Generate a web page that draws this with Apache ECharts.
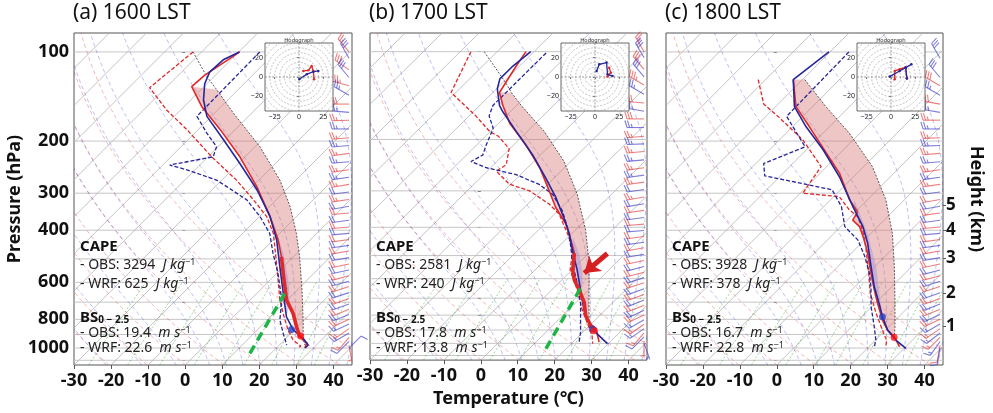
<!DOCTYPE html>
<html>
<head>
<meta charset="utf-8">
<title>Skew-T</title>
<script src="https://cdn.jsdelivr.net/npm/echarts@6.0.0/dist/echarts.min.js"></script>
<style>
  html, body { margin: 0; padding: 0; background: #fff; }
  #main { width: 993px; height: 413px; }
</style>
</head>
<body>
<div id="main"></div>
<script>
// ---------- data ----------
var panelTitles = ['(a) 1600 LST', '(b) 1700 LST', '(c) 1800 LST'];
var pressureLabels = [100, 200, 300, 400, 600, 800, 1000];
var pressureGrid = [100, 200, 300, 400, 500, 600, 700, 800, 900, 1000, 1100];
var heightLabels = [1, 2, 3, 4, 5];
var heightPres = [843, 652, 497, 399, 329];

var capeObs = [3294, 2581, 3928];
var capeWrf = [625, 240, 378];
var shearObs = [19.4, 17.8, 16.7];
var shearWrf = [22.6, 13.8, 22.8];

// profiles: [pressure hPa, temperature degC]
var obsTemp = [
  [[100,-69.7],[120,-72.9],[131,-73.3],[153,-65.2],[183,-54.0],[226,-41.4],[285,-28.8],[360,-17.1],[432,-8.6],[492,-3.2],[559,1.7],[688,9.8],[764,15.2],[847,19.7],[916,23.3],[964,26.9],[1000,27.7]],
  [[100,-72.2],[112,-70.9],[138,-68.2],[153,-63.7],[176,-57.0],[209,-46.6],[250,-36.7],[300,-27.8],[342,-21.5],[389,-14.3],[443,-8.4],[491,-3.9],[560,0.2],[605,3.3],[654,7.3],[725,12.3],[805,16.3],[870,20.4],[900,23.1],[990,27.1]],
  [[124,-72.5],[153,-64.5],[179,-55.4],[220,-43.6],[257,-34.7],[316,-24.8],[347,-19.4],[370,-18.5],[389,-14.9],[432,-10.0],[479,-5.5],[560,0.8],[637,6.2],[707,10.7],[805,16.5],[870,20.6],[916,24.2],[990,28.3]]
];
var wrfTemp = [
  [[100,-69.8],[106,-72.0],[117,-72.4],[128,-70.6],[145,-66.6],[165,-61.2],[198,-50.4],[238,-39.6],[292,-27.9],[360,-17.1],[432,-9.0],[531,-1.0],[653,7.1],[784,14.3],[869,19.7],[928,24.7],[977,27.8],[1000,27.8]],
  [[100,-70.9],[112,-71.8],[124,-71.8],[134,-69.8],[153,-64.6],[161,-61.9],[188,-52.9],[226,-42.1],[271,-32.3],[316,-24.2],[370,-16.6],[420,-10.7],[479,-5.3],[560,1.4],[654,7.7],[764,14.0],[826,17.6],[893,21.7],[965,27.1],[1002,29.8]],
  [[100,-70.3],[124,-72.5],[153,-64.9],[179,-56.3],[214,-45.5],[264,-33.8],[333,-22.1],[389,-14.0],[443,-8.2],[531,-1.0],[621,5.3],[707,11.1],[784,15.6],[870,20.6],[940,25.5],[1003,30.5]]
];
var obsDew = [
  [[100,-82.3],[132,-84.4],[157,-73.8],[183,-63.0],[226,-49.0],[271,-36.0],[316,-26.1],[360,-18.0],[410,-11.7],[531,-1.8],[688,8.0],[764,12.5],[869,18.3],[938,22.3],[985,26.1],[1000,25.8]],
  [[100,-87.1],[138,-81.3],[166,-68.2],[188,-60.1],[195,-56.5],[215,-50.2],[244,-46.6],[257,-47.5],[285,-40.3],[300,-33.1],[333,-24.2],[360,-18.8],[389,-15.0],[432,-9.8],[492,-4.4],[560,-0.5],[654,6.8],[764,13.5],[848,18.5],[940,23.4],[1002,25.8]],
  [[124,-82.0],[150,-73.9],[166,-66.3],[198,-53.7],[244,-41.5],[300,-39.3],[308,-28.5],[342,-22.1],[360,-18.1],[399,-13.2],[455,-7.8],[560,0.2],[654,6.0],[764,13.0],[870,19.2],[940,23.0],[990,24.6]]
];
var wrfDew = [
  [[100,-64.3],[165,-63.9],[188,-56.7],[209,-50.4],[226,-48.6],[241,-58.1],[250,-52.2],[271,-41.4],[285,-36.9],[316,-27.9],[360,-19.8],[410,-12.7],[479,-6.4],[559,0.3],[688,8.5],[804,13.4],[892,17.9],[977,22.0]],
  [[101,-66.4],[153,-66.4],[166,-64.6],[183,-60.1],[209,-57.4],[226,-55.6],[238,-57.0],[250,-51.1],[264,-41.2],[285,-32.3],[308,-26.0],[351,-18.8],[399,-13.0],[455,-7.6],[531,-1.7],[621,5.0],[725,11.3],[826,15.8],[916,19.4],[990,21.7]],
  [[100,-64.9],[165,-64.4],[209,-51.2],[238,-57.9],[262,-54.3],[292,-32.3],[333,-25.2],[389,-18.9],[432,-11.7],[491,-5.4],[560,0.4],[621,4.4],[725,9.8],[848,16.1],[940,20.1],[990,21.5]]
];
// surface-based parcel (OBS) and WRF parcel boundary of shaded CAPE
var parcel = [
  [[100,-82.3],[121,-72.0],[134,-65.8],[161,-54.9],[209,-38.7],[271,-24.3],[333,-14.4],[410,-5.5],[492,1.7],[637,11.3],[825,20.6],[916,24.2],[977,26.9]],
  [[100,-83.5],[128,-69.1],[138,-65.0],[153,-58.7],[188,-45.3],[238,-31.8],[308,-19.3],[410,-7.1],[531,2.8],[689,11.8],[826,18.1],[893,20.9]],
  [[124,-69.4],[153,-56.4],[188,-42.9],[244,-27.6],[316,-15.0],[410,-4.2],[531,5.3],[689,14.5],[848,21.7],[916,24.2]]
];
var capeTop = [131, 138, 124];
var capeBot = [916, 893, 916];
var wrfParcel = [
  [[278,-31.5],[316,-23.4],[389,-13.1],[479,-3.6],[589,4.9],[706,11.6],[784,14.3]],
  [[432,-8.8],[491,-2.6],[560,2.8],[621,6.5],[654,7.7]],
  [[316,-23.5],[410,-10.9],[531,0.4],[654,8.5],[784,15.6]]
];
var thickLayer = [[492, 916], [491, 900], null];
var greenLine = [[[1042,14.3],[629,7.0]], [[1042,14.5],[629,6.9]], null];
var obsMark = [[910,23.3], [905,22.6], [920,24.3]];
var wrfMark = [[866,19.1], [893,21.7], [784,15.6]];
var arrowFrom = [492, 5.1], arrowTo = [574, 4.2];

// hodograph winds [u, v] m/s
var hodoObs = [
  [[4.5,6.2],[9.6,6.9],[13.0,11.4],[14.8,6.2],[15.5,-2.4]],
  [[12.9,0.4],[16.3,4.5],[14.6,9.6]],
  [[3.8,-2.4],[3.8,6.2],[9.0,8.0],[15.0,10.0],[16.4,-1.6]]
];
var hodoWrf = [
  [[0.3,-2.4],[7.9,2.8],[14.8,5.5],[19.9,6.2]],
  [[1.6,6.2],[4.4,13.1],[11.9,14.8],[12.9,2.8],[18.0,1.1]],
  [[-1.3,0.4],[8.9,6.2],[15.1,9.6],[21.0,13.0],[15.1,9.6],[16.4,-1.6]]
];

// wind barbs: levels (hPa), direction (deg), speed (kt)
var barbPresObs = [100,115,130,150,170,195,220,250,280,315,350,390,430,470,520,570,620,680,740,800,860,920,980];
var barbPresWrf = [105,122,140,160,182,207,235,265,297,332,370,410,450,495,545,595,650,710,770,830,890,950,1000];
var obsDir = [
  [320,305,285,270,268,265,262,262,260,262,265,265,262,260,258,255,252,250,248,245,235,220,170],
  [330,320,300,275,270,265,265,262,262,260,262,265,262,260,258,255,252,250,248,245,235,220,180],
  [null,null,300,280,270,268,265,262,262,260,262,265,262,260,258,255,252,250,248,245,235,225,190]
];
var obsSpd = [
  [25,30,35,30,25,25,25,25,25,25,20,20,20,20,20,20,20,20,20,20,15,15,5],
  [25,30,35,30,30,25,25,25,25,25,20,20,20,20,20,20,20,20,20,20,15,15,5],
  [null,null,30,30,25,25,25,25,25,20,20,20,20,20,20,20,20,20,20,20,15,15,10]
];
var wrfDir = [
  [330,320,300,275,270,265,265,262,262,260,262,265,262,260,258,255,252,250,248,245,240,225,45],
  [330,320,300,280,270,268,265,262,262,260,262,265,262,260,255,252,250,248,245,240,235,225,160],
  [330,320,300,280,270,268,265,262,262,260,262,265,262,260,255,252,250,248,245,240,232,215,190]
];
var wrfSpd = [
  [30,30,25,25,25,25,25,25,20,20,20,20,20,20,20,20,20,20,20,15,15,10,10],
  [30,30,25,25,25,25,25,25,20,20,20,20,20,20,20,20,20,20,20,15,15,10,5],
  [30,30,25,25,25,25,25,25,20,20,20,20,20,20,20,20,20,20,20,15,15,15,10]
];

// ---------- layout / helpers ----------
var FONT = 'Noto Sans';
var RED = '#e02828', BLUE = '#26269a';
var K = 79.85, PBOT = 1141, PTOP = 86.3;
var panelLeft = [74, 370, 666], panelWidth = [278, 277, 277];
var BARB_X = 44.2;

function sk(p, t) { return [t + K * Math.log10(PBOT / p), p]; }
function toXY(arr) { return arr.map(function (d) { return sk(d[0], d[1]); }); }
function between(arr, p0, p1) { return arr.filter(function (d) { return d[0] >= p0 && d[0] <= p1; }); }
function logSpace(a, b, n) {
  var out = [];
  for (var k = 0; k < n; k++) out.push(a * Math.pow(b / a, k / (n - 1)));
  return out;
}

// reference lines of the diagram
var isoLines = [];
for (var t = -120; t <= 40; t += 10) isoLines.push([sk(PBOT, t), sk(PTOP, t)]);
var presLines = pressureGrid.map(function (p) { return [[-30, p], [45, p]]; });
var presSamples = logSpace(PBOT, PTOP, 40);
var dryLines = [];
for (var t0 = -30; t0 <= 40; t0 += 10) {
  dryLines.push(presSamples.map(function (p) {
    return sk(p, (t0 + 273.15) * Math.pow(p / 1000, 0.2857) - 273.15);
  }));
}
function satMix(p, tK) {
  var tc = tK - 273.15;
  var es = 6.112 * Math.exp(17.67 * tc / (tc + 243.5));
  return 0.622 * es / (p - es);
}
function moistRate(p, tK) {
  var rs = satMix(p, tK);
  return (287.04 * tK + 2.501e6 * rs) / (1005.7 + 2.501e6 * 2.501e6 * rs * 0.622 / (287.04 * tK * tK)) / p;
}
function moistLine(t0) {
  var down = [], up = [], tK, p, dp, k1, k2;
  tK = t0 + 273.15; p = 1000;
  while (p < PBOT) {
    dp = 5; k1 = moistRate(p, tK); k2 = moistRate(p + dp / 2, tK + k1 * dp / 2);
    tK += k2 * dp; p += dp; down.push([p, tK - 273.15]);
  }
  tK = t0 + 273.15; p = 1000;
  while (p > PTOP) {
    dp = -5; k1 = moistRate(p, tK); k2 = moistRate(p + dp / 2, tK + k1 * dp / 2);
    tK += k2 * dp; p += dp; up.push([p, tK - 273.15]);
  }
  return toXY(down.reverse().concat([[1000, t0]]).concat(up));
}
var moistLines = [-30, -20, -10, 0, 5, 10, 15, 20, 25, 30, 35, 40, 45].map(moistLine);
var mixLines = [0.0004, 0.001, 0.002, 0.004, 0.007, 0.01, 0.016, 0.024, 0.032].map(function (w) {
  return logSpace(PBOT, 600, 12).map(function (p) {
    var e = p * w / (0.622 + w), l = Math.log(e / 6.112);
    return sk(p, 243.5 * l / (17.67 - l));
  });
});

function curves(gi, lines, style, z) {
  return {
    type: 'custom', xAxisIndex: gi, yAxisIndex: gi, clip: true, silent: true, z: z,
    data: lines.map(function (l) { return l[0]; }),
    renderItem: function (params, api) {
      var pts = lines[params.dataIndex].map(function (d) { return api.coord(d); });
      return { type: 'polyline', shape: { points: pts }, style: Object.assign({ fill: 'none' }, style) };
    }
  };
}
function polygonSeries(gi, pts, fill, z) {
  return {
    type: 'custom', xAxisIndex: gi, yAxisIndex: gi, clip: true, silent: true, z: z,
    data: [pts[0]],
    renderItem: function (params, api) {
      return { type: 'polygon', shape: { points: pts.map(function (d) { return api.coord(d); }) }, style: { fill: fill } };
    }
  };
}
function lineS(gi, arr, color, width, dash, z) {
  return {
    type: 'line', xAxisIndex: gi, yAxisIndex: gi, data: toXY(arr), showSymbol: false, symbol: 'none',
    silent: true, z: z, clip: true, lineStyle: { color: color, width: width, type: dash || 'solid' }
  };
}
function barbRender(color) {
  return function (params, api) {
    var b = api.coord([api.value(0), api.value(1)]);
    var spd = api.value(2), dir = api.value(3) * Math.PI / 180;
    var sx = Math.sin(dir), sy = -Math.cos(dir);
    var fx = Math.cos(dir), fy = Math.sin(dir);
    var st = { stroke: color, lineWidth: 1.1, fill: 'none', opacity: 0.65 };
    if (spd < 2.5) return { type: 'circle', shape: { cx: b[0], cy: b[1], r: 2 }, style: st };
    var L = 17, H = 7, gap = 2.6;
    var tip = [b[0] + sx * L, b[1] + sy * L];
    var kids = [{ type: 'line', shape: { x1: b[0], y1: b[1], x2: tip[0], y2: tip[1] }, style: st }];
    var n = Math.round(spd / 5), flags = Math.floor(n / 10);
    n -= flags * 10;
    var full = Math.floor(n / 2), half = n % 2, pos = 0, k, s0;
    for (k = 0; k < flags; k++) {
      s0 = [tip[0] - sx * pos, tip[1] - sy * pos];
      kids.push({ type: 'polygon', shape: { points: [s0, [s0[0] + fx * H - sx * 1.5, s0[1] + fy * H - sy * 1.5], [s0[0] - sx * 3, s0[1] - sy * 3]] }, style: { fill: color, opacity: 0.65 } });
      pos += 4;
    }
    for (k = 0; k < full; k++) {
      s0 = [tip[0] - sx * pos, tip[1] - sy * pos];
      kids.push({ type: 'line', shape: { x1: s0[0], y1: s0[1], x2: s0[0] + fx * H + sx * 2.2, y2: s0[1] + fy * H + sy * 2.2 }, style: st });
      pos += gap;
    }
    if (half) {
      if (pos === 0) pos = gap;
      s0 = [tip[0] - sx * pos, tip[1] - sy * pos];
      kids.push({ type: 'line', shape: { x1: s0[0], y1: s0[1], x2: s0[0] + fx * H * 0.5 + sx * 1.1, y2: s0[1] + fy * H * 0.5 + sy * 1.1 }, style: st });
    }
    return { type: 'group', children: kids };
  };
}
function barbSeries(gi, pres, dirs, spds, color) {
  var data = [];
  pres.forEach(function (p, k) {
    if (dirs[k] != null && spds[k] != null) data.push([BARB_X, p, spds[k], dirs[k]]);
  });
  return { type: 'custom', xAxisIndex: gi, yAxisIndex: gi, clip: false, silent: true, z: 7, data: data, renderItem: barbRender(color) };
}

var RICH = {
  i: { fontFamily: FONT, fontSize: 14, fontStyle: 'italic', fill: '#222' },
  s: { fontFamily: FONT, fontSize: 9, verticalAlign: 'top', fill: '#222' },
  b: { fontFamily: FONT, fontSize: 15, fontWeight: 'bold', fill: '#111' },
  sub: { fontFamily: FONT, fontSize: 10, fontWeight: 'bold', verticalAlign: 'bottom', fill: '#111' }
};
function txt(x, y, text) {
  return { type: 'text', x: x, y: y, z: 100, silent: true,
    style: { text: text, fontFamily: FONT, fontSize: 14, fill: '#222', verticalAlign: 'middle', rich: RICH } };
}

// ---------- build option ----------
var grids = [], xAxes = [], yAxes = [], series = [], titles = [], graphics = [];

[0, 1, 2].forEach(function (i) {
  grids.push({ left: panelLeft[i], top: 33, width: panelWidth[i], height: 332, show: true, borderColor: '#555', borderWidth: 1 });
  xAxes.push({
    gridIndex: i, type: 'value', min: -30, max: 45, interval: 10,
    axisLine: { show: false }, splitLine: { show: false },
    axisTick: { show: true, length: 4, lineStyle: { color: '#555' } },
    axisLabel: { showMaxLabel: false, fontFamily: FONT, fontSize: 18, fontWeight: 'bold', color: '#111', margin: 7 },
    name: i === 1 ? 'Temperature (\u2103)' : '', nameLocation: 'middle', nameGap: 27,
    nameTextStyle: { fontFamily: FONT, fontSize: 18, fontWeight: 'bold', color: '#111' }
  });
  yAxes.push({
    gridIndex: i, type: 'log', logBase: 10, min: PTOP, max: PBOT, inverse: true,
    axisLine: { show: false }, splitLine: { show: false },
    axisTick: { show: true, length: 3, customValues: pressureGrid, lineStyle: { color: '#555' } },
    axisLabel: { show: i === 0, customValues: pressureLabels, fontFamily: FONT, fontSize: 18, fontWeight: 'bold', color: '#111', margin: 5,
      formatter: function (v) { return String(Math.round(v)); } },
    name: i === 0 ? 'Pressure (hPa)' : '', nameLocation: 'middle', nameGap: 50,
    nameTextStyle: { fontFamily: FONT, fontSize: 18, fontWeight: 'bold', color: '#111' }
  });
  titles.push({ text: panelTitles[i], left: panelLeft[i] - 1, top: 3, padding: 0,
    textStyle: { fontFamily: FONT, fontSize: 21, fontWeight: 'normal', color: '#111' } });

  // diagram background
  series.push(curves(i, presLines, { stroke: '#c6c6c6', lineWidth: 1 }, 1));
  series.push(curves(i, isoLines, { stroke: '#b4b4b4', lineWidth: 0.8 }, 1));
  series.push(curves(i, dryLines, { stroke: 'rgba(225,40,40,0.42)', lineWidth: 0.8, lineDash: [4, 3] }, 1));
  series.push(curves(i, moistLines, { stroke: 'rgba(40,40,225,0.38)', lineWidth: 0.8, lineDash: [4, 3] }, 1));
  series.push(curves(i, mixLines, { stroke: 'rgba(30,160,30,0.55)', lineWidth: 0.8, lineDash: [2, 2] }, 1));

  // CAPE shading
  var obsPoly = between(parcel[i], capeTop[i], capeBot[i]).concat(between(obsTemp[i], capeTop[i], capeBot[i]).reverse());
  series.push(polygonSeries(i, toXY(obsPoly), 'rgba(212,112,112,0.4)', 2));
  var wp = wrfParcel[i];
  var wrfPoly = wp.concat(between(wrfTemp[i], wp[0][0], wp[wp.length - 1][0]).reverse());
  series.push(polygonSeries(i, toXY(wrfPoly), 'rgba(140,140,225,0.38)', 2));

  // profiles
  series.push(lineS(i, parcel[i], '#333', 0.8, [2, 1.5], 3));
  series.push(lineS(i, obsDew[i], RED, 1.3, [4, 2], 4));
  series.push(lineS(i, wrfDew[i], BLUE, 1.3, [4, 2], 4));
  series.push(lineS(i, obsTemp[i], RED, 1.6, null, 5));
  series.push(lineS(i, wrfTemp[i], BLUE, 1.6, null, 5));
  if (thickLayer[i]) series.push(lineS(i, between(obsTemp[i], thickLayer[i][0], thickLayer[i][1]), RED, 3.6, null, 6));
  if (greenLine[i]) series.push(lineS(i, greenLine[i], '#1db446', 3.5, [9, 6], 6));
  series.push({ type: 'scatter', xAxisIndex: i, yAxisIndex: i, silent: true, z: 8, symbolSize: 7,
    data: [sk(wrfMark[i][0], wrfMark[i][1])], itemStyle: { color: '#2a3fc0' } });
  series.push({ type: 'scatter', xAxisIndex: i, yAxisIndex: i, silent: true, z: 8, symbolSize: 7,
    data: [sk(obsMark[i][0], obsMark[i][1])], itemStyle: { color: '#ff1010' } });

  // wind barbs
  series.push(barbSeries(i, barbPresObs, obsDir[i], obsSpd[i], '#e23a3a'));
  series.push(barbSeries(i, barbPresWrf, wrfDir[i], wrfSpd[i], '#3a3ac4'));

  // text annotations
  var tx = panelLeft[i] + 6;
  graphics.push(txt(tx, 247, '{b|CAPE}'));
  graphics.push(txt(tx, 265, '- OBS: ' + capeObs[i] + '  {i|J kg}{s|\u22121}'));
  graphics.push(txt(tx, 284, '- WRF: ' + capeWrf[i] + '  {i|J kg}{s|\u22121}'));
  graphics.push(txt(tx, 318, '{b|BS}{sub|0 \u2212 2.5}'));
  graphics.push(txt(tx, 333, '- OBS: ' + shearObs[i].toFixed(1) + '  {i|m s}{s|\u22121}'));
  graphics.push(txt(tx, 348, '- WRF: ' + shearWrf[i].toFixed(1) + '  {i|m s}{s|\u22121}'));
});

// arrow in panel (b)
series.push({
  type: 'line', xAxisIndex: 1, yAxisIndex: 1, data: [], silent: true, z: 9,
  markLine: { silent: true, symbol: ['none', 'arrow'], symbolSize: 15, label: { show: false },
    lineStyle: { color: '#d42020', width: 5, type: 'solid' },
    data: [[{ coord: sk(arrowFrom[0], arrowFrom[1]) }, { coord: sk(arrowTo[0], arrowTo[1]) }]] }
});

// hodograph insets (grids / axes 3..5)
var hodoRings = [5, 10, 15, 20, 25, 30, 35, 40, 45, 50];
[0, 1, 2].forEach(function (i) {
  var gi = 3 + i, hl = panelLeft[i] + 191;
  grids.push({ left: hl, top: 43, width: 68, height: 68 });
  xAxes.push({ gridIndex: gi, type: 'value', min: -35, max: 35, z: 12,
    axisLine: { show: false }, splitLine: { show: false },
    axisTick: { show: true, length: 2, customValues: [-25, 0, 25], lineStyle: { color: '#444', width: 0.6 } },
    axisLabel: { customValues: [-25, 0, 25], fontFamily: FONT, fontSize: 7, color: '#222', margin: 2,
      formatter: function (v) { return String(v).replace('-', '\u2212'); } } });
  yAxes.push({ gridIndex: gi, type: 'value', min: -35, max: 35, z: 12,
    axisLine: { show: false }, splitLine: { show: false },
    axisTick: { show: true, length: 2, customValues: [-20, 0, 20], lineStyle: { color: '#444', width: 0.6 } },
    axisLabel: { customValues: [-20, 0, 20], fontFamily: FONT, fontSize: 7, color: '#222', margin: 2,
      formatter: function (v) { return String(v).replace('-', '\u2212'); } } });
  series.push({ type: 'custom', xAxisIndex: gi, yAxisIndex: gi, silent: true, z: 9, data: [[0, 0]],
    renderItem: function (params, api) {
      var a = api.coord([-35, 35]), b = api.coord([35, -35]);
      return { type: 'rect', shape: { x: a[0], y: a[1], width: b[0] - a[0], height: b[1] - a[1] },
        style: { fill: '#fff', stroke: '#444', lineWidth: 0.8 } };
    } });
  series.push({ type: 'custom', xAxisIndex: gi, yAxisIndex: gi, silent: true, clip: true, z: 10,
    data: hodoRings.map(function (r) { return [r, 0]; }),
    renderItem: function (params, api) {
      var c = api.coord([0, 0]), e = api.coord([api.value(0), 0]);
      return { type: 'circle', shape: { cx: c[0], cy: c[1], r: e[0] - c[0] },
        style: { fill: 'none', stroke: '#9a9a9a', lineWidth: 0.6, lineDash: [2, 1.5] } };
    } });
  series.push({ type: 'custom', xAxisIndex: gi, yAxisIndex: gi, silent: true, z: 10, data: [[0, 0]],
    renderItem: function (params, api) {
      var l = api.coord([-35, 0]), r = api.coord([35, 0]), t = api.coord([0, 35]), d = api.coord([0, -35]);
      var st = { stroke: '#777', lineWidth: 0.7, lineDash: [2, 1.5] };
      return { type: 'group', children: [
        { type: 'line', shape: { x1: l[0], y1: l[1], x2: r[0], y2: r[1] }, style: st },
        { type: 'line', shape: { x1: t[0], y1: t[1], x2: d[0], y2: d[1] }, style: st }] };
    } });
  series.push({ type: 'line', xAxisIndex: gi, yAxisIndex: gi, data: hodoObs[i], silent: true, z: 11,
    symbol: 'circle', symbolSize: 2.5, lineStyle: { color: RED, width: 1.3 }, itemStyle: { color: RED } });
  series.push({ type: 'line', xAxisIndex: gi, yAxisIndex: gi, data: hodoWrf[i], silent: true, z: 11,
    symbol: 'circle', symbolSize: 2.5, lineStyle: { color: BLUE, width: 1.3 }, itemStyle: { color: BLUE } });
  graphics.push({ type: 'text', x: hl + 34, y: 40, z: 100, silent: true,
    style: { text: 'Hodograph', fontFamily: FONT, fontSize: 5.5, fill: '#333', align: 'center', verticalAlign: 'middle' } });
});

// height axis on panel (c), index 6
yAxes.push({
  gridIndex: 2, type: 'log', logBase: 10, min: PTOP, max: PBOT, inverse: true, position: 'right',
  axisLine: { show: false }, splitLine: { show: false },
  axisTick: { show: true, length: 3, customValues: heightPres, lineStyle: { color: '#555' } },
  axisLabel: { customValues: heightPres, fontFamily: FONT, fontSize: 17, fontWeight: 'bold', color: '#111', margin: 3,
    formatter: function (v) {
      var best = 0;
      heightPres.forEach(function (p, k) { if (Math.abs(p - v) < Math.abs(heightPres[best] - v)) best = k; });
      return String(heightLabels[best]);
    } },
  name: 'Height (km)', nameLocation: 'middle', nameRotate: -90, nameGap: 24,
  nameTextStyle: { fontFamily: FONT, fontSize: 18, fontWeight: 'bold', color: '#111' }
});

var chart = echarts.init(document.getElementById('main'));
chart.setOption({
  animation: false,
  backgroundColor: '#fff',
  textStyle: { fontFamily: FONT },
  title: titles,
  grid: grids,
  xAxis: xAxes,
  yAxis: yAxes,
  series: series,
  graphic: graphics
});
</script>
</body>
</html>
